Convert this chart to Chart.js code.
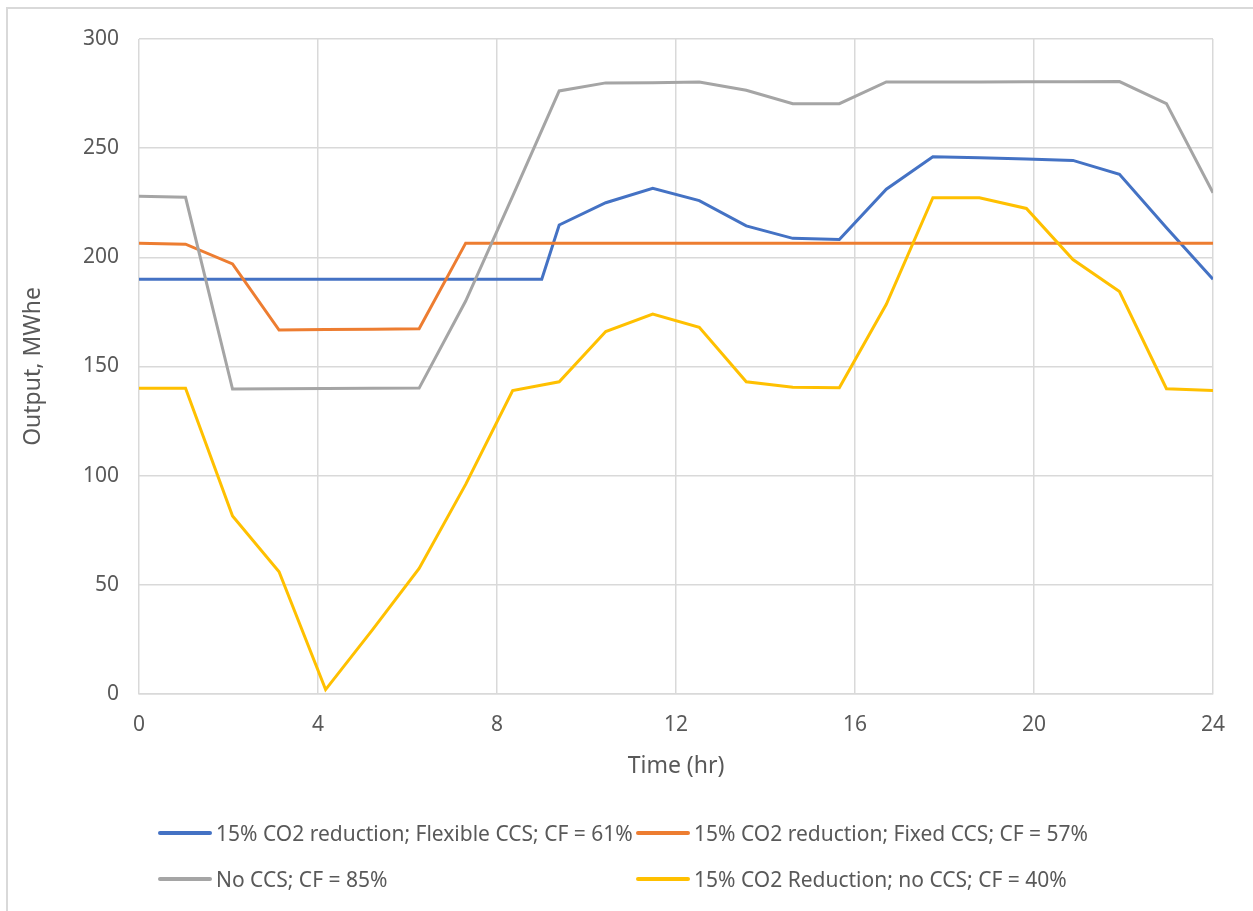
<!DOCTYPE html>
<html>
<head>
    <title>Output vs Time</title>
    <style>
        body {
            margin: 0;
            background: #ffffff;
            font-family: 'Noto Sans', sans-serif;
            overflow: hidden;
        }

        .wrap {
            position: relative;
            width: 1253px;
            height: 911px;
            overflow: hidden;
        }

        .frame {
            position: absolute;
            left: 6px;
            top: 7px;
            width: 1300px;
            height: 1000px;
            border-top: 2px solid #d9d9d9;
            border-left: 2px solid #d9d9d9;
        }

        #chart {
            position: absolute;
            left: 0;
            top: 0;
        }

        .legend-item {
            position: absolute;
            display: flex;
            align-items: center;
            font-size: 21px;
            color: #595959;
            white-space: nowrap;
            height: 26px;
        }

        .legend-item .swatch {
            width: 54px;
            height: 3.5px;
            border-radius: 2px;
            margin-right: 4px;
        }
    </style>
    <script src="https://cdn.jsdelivr.net/npm/chart.js"></script>
</head>
<body>
    <div class="wrap">
        <div class="frame"></div>
        <canvas id="chart" width="1253" height="911"></canvas>
        <div id="legend"></div>
    </div>
    <script>
        // hour positions of the 24 samples
        const hours = [0, 1.04, 2.09, 3.13, 4.17, 5.22, 6.26, 7.30, 8.35, 9.39, 10.43, 11.48,
                       12.52, 13.57, 14.61, 15.65, 16.70, 17.74, 18.78, 19.83, 20.87, 21.91, 22.96, 24];
        const blueHours = [0, 1.04, 2.09, 3.13, 4.17, 5.22, 6.26, 7.30, 8.35, 9.0, 9.39, 10.43, 11.48,
                           12.52, 13.57, 14.61, 15.65, 16.70, 17.74, 18.78, 19.83, 20.87, 21.91, 22.96, 24];

        const flexibleCCS = [190, 190, 190, 190, 190, 190, 190, 190, 190, 190, 214.8, 225, 231.6,
                             226, 214.4, 208.7, 208.2, 231.2, 246.1, 245.6, 245, 244.4, 238, 213.5, 190];
        const fixedCCS = [206.5, 206, 197, 166.7, 166.9, 167.1, 167.3, 206.5, 206.5, 206.5, 206.5, 206.5,
                          206.5, 206.5, 206.5, 206.5, 206.5, 206.5, 206.5, 206.5, 206.5, 206.5, 206.5, 206.5];
        const noCCS = [228, 227.5, 139.7, 139.8, 139.9, 140, 140.1, 180, 228, 276.2, 279.9, 280,
                       280.3, 276.5, 270.4, 270.4, 280.3, 280.3, 280.3, 280.4, 280.4, 280.5, 270.4, 229.6];
        const reductionNoCCS = [140, 140, 81.5, 56, 2, 29.5, 57.5, 96, 139, 143, 166, 174,
                                168, 143, 140.5, 140.3, 178.5, 227.3, 227.3, 222.4, 199, 184.3, 139.8, 139];

        const xTicks = [0, 4, 8, 12, 16, 20, 24];
        const yTicks = [0, 50, 100, 150, 200, 250, 300];

        const seriesNames = [
            '15% CO2 reduction; Flexible CCS; CF = 61%',
            '15% CO2 reduction; Fixed CCS; CF = 57%',
            'No CCS; CF = 85%',
            '15% CO2 Reduction; no CCS; CF = 40%'
        ];
        const seriesColors = ['#4472C4', '#ED7D31', '#A5A5A5', '#FFC000'];

        function toPoints(xs, ys) {
            return xs.map((x, i) => ({ x: x, y: ys[i] }));
        }

        const seriesData = [
            toPoints(blueHours, flexibleCCS),
            toPoints(hours, fixedCCS),
            toPoints(hours, noCCS),
            toPoints(hours, reductionNoCCS)
        ];

        const gridColor = '#d9d9d9';
        const textColor = '#595959';

        var ctx = document.getElementById('chart').getContext('2d');
        var chart = new Chart(ctx, {
            type: 'line',
            data: {
                datasets: seriesData.map((d, i) => ({
                    label: seriesNames[i],
                    data: d,
                    borderColor: seriesColors[i],
                    backgroundColor: seriesColors[i],
                    borderWidth: 3,
                    pointRadius: 0,
                    tension: 0,
                    order: 4 - i
                }))
            },
            options: {
                responsive: false,
                animation: false,
                layout: {
                    padding: { left: 20, right: 40, top: 39, bottom: 131 }
                },
                plugins: {
                    legend: { display: false },
                    tooltip: { enabled: false }
                },
                scales: {
                    x: {
                        type: 'linear',
                        min: 0,
                        max: 24,
                        afterBuildTicks: (axis) => { axis.ticks = xTicks.map(v => ({ value: v })); },
                        afterFit: (axis) => { axis.height = 86; },
                        grid: { color: gridColor, lineWidth: 1.5, drawTicks: false },
                        border: { color: gridColor, width: 1.5 },
                        ticks: { color: textColor, font: { family: 'Noto Sans', size: 21 }, padding: 18 },
                        title: {
                            display: true,
                            text: 'Time (hr)',
                            color: textColor,
                            font: { family: 'Noto Sans', size: 23 },
                            padding: 0
                        }
                    },
                    y: {
                        min: 0,
                        max: 300,
                        afterBuildTicks: (axis) => { axis.ticks = yTicks.map(v => ({ value: v })); },
                        afterFit: (axis) => { axis.width = 119; },
                        grid: { color: gridColor, lineWidth: 1.5, drawTicks: false },
                        border: { display: false },
                        ticks: { color: textColor, font: { family: 'Noto Sans', size: 21 }, padding: 20 },
                        title: {
                            display: true,
                            text: 'Output, MWhe',
                            color: textColor,
                            font: { family: 'Noto Sans', size: 23 },
                            padding: 0
                        }
                    }
                }
            }
        });

        // legend laid out in two columns like the original
        const legendPos = [[158, 820], [636, 820], [158, 866], [636, 866]];
        const legend = document.getElementById('legend');
        seriesNames.forEach((name, i) => {
            const item = document.createElement('div');
            item.className = 'legend-item';
            item.style.left = legendPos[i][0] + 'px';
            item.style.top = legendPos[i][1] + 'px';
            item.innerHTML = '<span class="swatch" style="background:' + seriesColors[i] + '"></span>' + name;
            legend.appendChild(item);
        });
    </script>
</body>
</html>
